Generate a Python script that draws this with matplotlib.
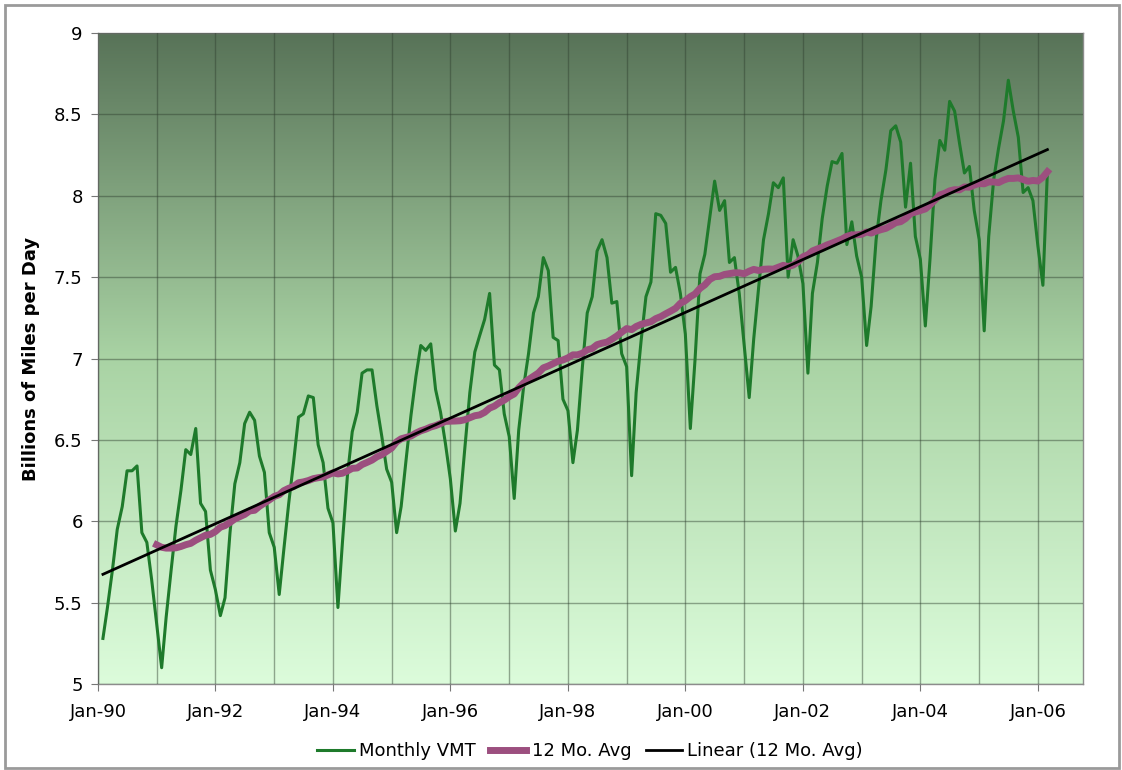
import matplotlib
matplotlib.use("Agg")
import matplotlib.pyplot as plt
import matplotlib.dates as mdates
from matplotlib.colors import LinearSegmentedColormap
from matplotlib.patches import Rectangle
from matplotlib.ticker import FuncFormatter
import numpy as np
import pandas as pd

# Daily vehicle miles travelled, billions, monthly from Feb-1990
first_month = "1990-02-01"
vmt_monthly = [
    5.28, 5.47, 5.70, 5.95, 6.09, 6.31, 6.31, 6.34, 5.93, 5.87, 5.64,
    5.37, 5.10, 5.41, 5.70, 5.97, 6.19, 6.44, 6.41, 6.57, 6.11, 6.06, 5.70,
    5.58, 5.42, 5.53, 5.93, 6.23, 6.36, 6.60, 6.67, 6.62, 6.40, 6.30, 5.93,
    5.84, 5.55, 5.82, 6.11, 6.36, 6.64, 6.66, 6.77, 6.76, 6.47, 6.36, 6.08,
    5.99, 5.47, 5.87, 6.28, 6.55, 6.67, 6.91, 6.93, 6.93, 6.71, 6.52, 6.32,
    6.24, 5.93, 6.09, 6.38, 6.65, 6.89, 7.08, 7.05, 7.09, 6.81, 6.67, 6.48,
    6.26, 5.94, 6.11, 6.46, 6.79, 7.04, 7.14, 7.24, 7.40, 6.96, 6.93, 6.66,
    6.52, 6.14, 6.56, 6.83, 7.03, 7.28, 7.38, 7.62, 7.54, 7.13, 7.11, 6.75,
    6.68, 6.36, 6.56, 6.95, 7.28, 7.38, 7.66, 7.73, 7.62, 7.34, 7.35, 7.03,
    6.95, 6.28, 6.79, 7.11, 7.38, 7.47, 7.89, 7.88, 7.83, 7.53, 7.56, 7.40,
    7.15, 6.57, 6.99, 7.52, 7.64, 7.87, 8.09, 7.91, 7.97, 7.59, 7.62, 7.40,
    7.08, 6.76, 7.12, 7.44, 7.73, 7.89, 8.08, 8.05, 8.11, 7.50, 7.73, 7.63,
    7.46, 6.91, 7.40, 7.59, 7.86, 8.06, 8.21, 8.20, 8.26, 7.70, 7.84, 7.63,
    7.50, 7.08, 7.32, 7.73, 7.97, 8.16, 8.40, 8.43, 8.33, 7.93, 8.20, 7.75,
    7.61, 7.20, 7.61, 8.10, 8.34, 8.28, 8.58, 8.52, 8.32, 8.14, 8.18, 7.91,
    7.73, 7.17, 7.75, 8.10, 8.29, 8.46, 8.71, 8.52, 8.36, 8.02, 8.05, 7.97,
    7.69, 7.45, 8.15,
]
y_ticks = [5, 5.5, 6, 6.5, 7, 7.5, 8, 8.5, 9]
legend_labels = ["Monthly VMT", "12 Mo. Avg", "Linear (12 Mo. Avg)"]

months = pd.date_range(first_month, periods=len(vmt_monthly), freq="MS")
vmt = pd.Series(vmt_monthly, index=months)
avg12 = vmt.rolling(12).mean()

# linear trend of the 12-month average, drawn across the whole series
xnum = mdates.date2num(months)
ok = avg12.notna().values
coef = np.polyfit(xnum[ok], avg12.values[ok], 1)
trend = np.polyval(coef, xnum)

fig = plt.figure(figsize=(11.22, 7.70), dpi=100)
ax = fig.add_axes([0.0873, 0.1117, 0.8779, 0.8454])

# green vertical gradient behind the plot
grad = LinearSegmentedColormap.from_list("bg", ["#dcfcdb", "#a9d3a4", "#587358"])
ax.imshow(np.linspace(0, 1, 256).reshape(-1, 1), cmap=grad, aspect="auto",
          extent=[0, 1, 0, 1], transform=ax.transAxes, origin="lower", zorder=0)

ax.plot(months, vmt.values, color="#1e7a2b", lw=2.2, zorder=3, label=legend_labels[0])
ax.plot(months, avg12.values, color="#9c4f7f", lw=5, zorder=4, label=legend_labels[1])
ax.plot(months, trend, color="black", lw=2, zorder=5, label=legend_labels[2])

ax.set_xlim(pd.Timestamp("1990-01-01"), pd.Timestamp("2006-10-08"))
ax.set_ylim(5, 9)
ax.set_yticks(y_ticks)
ax.yaxis.set_major_formatter(FuncFormatter(lambda v, p: "%g" % v))

ax.xaxis.set_major_locator(mdates.YearLocator(2))
ax.xaxis.set_minor_locator(mdates.YearLocator(1))
ax.xaxis.set_major_formatter(mdates.DateFormatter("%b-%y"))

ax.set_axisbelow(False)
ax.grid(True, which="both", axis="x", color="#2f3f2f", alpha=0.45, lw=1)
ax.grid(True, which="major", axis="y", color="#2f3f2f", alpha=0.45, lw=1)

ax.tick_params(axis="both", which="major", labelsize=13, length=5, color="#777777")
ax.tick_params(axis="x", which="major", pad=9)
ax.tick_params(axis="y", which="major", pad=6)
ax.tick_params(axis="x", which="minor", length=0)
for side in ax.spines.values():
    side.set_color("#8c8c8c")
    side.set_linewidth(1)

ax.set_ylabel("Billions of Miles per Day", fontsize=13, fontweight="bold", labelpad=10)

fig.legend(loc="lower center", bbox_to_anchor=(0.526, -0.008), ncol=3, frameon=False,
           fontsize=13, handlelength=2.0, handletextpad=0.3, columnspacing=0.8)

# thin frame around the whole chart
fig.add_artist(Rectangle((5 / 1122, 2 / 770), 1114 / 1122, 763 / 770, transform=fig.transFigure,
                         fill=False, edgecolor="#9a9a9a", lw=2))

fig.savefig("out.png", dpi=100)
